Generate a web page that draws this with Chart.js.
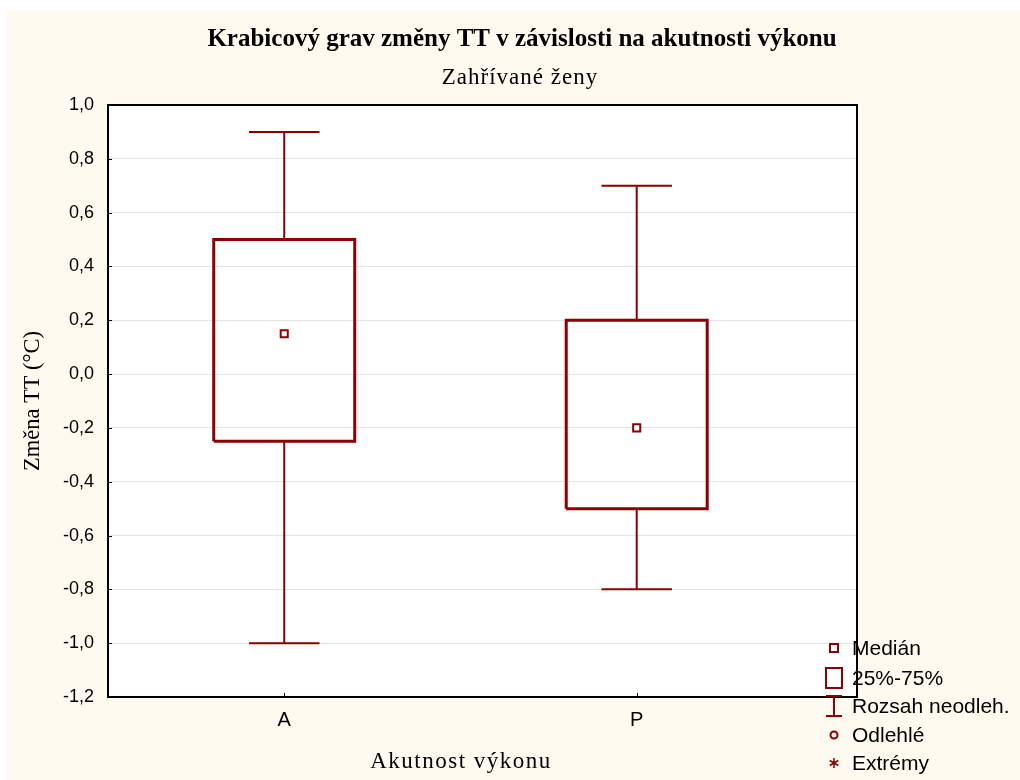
<!DOCTYPE html>
<html>
<head>
<meta charset="utf-8">
<script src="https://cdn.jsdelivr.net/npm/chart.js@4/dist/chart.umd.min.js"></script>
<style>
  body { margin: 0; background: #ffffff; }
  #wrap { position: absolute; left: 7px; top: 10px; width: 1013px; height: 770px; }
</style>
</head>
<body>
<div id="wrap"><canvas id="box-chart"></canvas></div>
<script>
// Data
const groups = ['A', 'P'];
const mins = [-1.0, -0.8];
const q1s = [-0.25, -0.5];
const medians = [0.15, -0.2];
const q3s = [0.5, 0.2];
const maxs = [0.9, 0.7];

const legendLabels = ['Medián', '25%-75%', 'Rozsah neodleh.', 'Odlehlé', 'Extrémy'];

const red = '#8b0000';
const cream = '#fffaf0';
const boxHalf = 0.2;
const capHalf = 0.1;

// build datasets from the arrays
let datasets = [];
groups.forEach((g, i) => {
  datasets.push({
    data: [
      {x: i - boxHalf, y: q1s[i]}, {x: i + boxHalf, y: q1s[i]},
      {x: i + boxHalf, y: q3s[i]}, {x: i - boxHalf, y: q3s[i]},
      {x: i - boxHalf, y: q1s[i]}
    ],
    showLine: true, borderColor: red, borderWidth: 3, pointRadius: 0,
    backgroundColor: 'transparent', spanGaps: false
  });
  datasets.push({
    data: [
      {x: i, y: q3s[i]}, {x: i, y: maxs[i]}, {x: NaN, y: NaN},
      {x: i - capHalf, y: maxs[i]}, {x: i + capHalf, y: maxs[i]}, {x: NaN, y: NaN},
      {x: i, y: q1s[i]}, {x: i, y: mins[i]}, {x: NaN, y: NaN},
      {x: i - capHalf, y: mins[i]}, {x: i + capHalf, y: mins[i]}
    ],
    showLine: true, borderColor: red, borderWidth: 2, pointRadius: 0,
    backgroundColor: 'transparent', spanGaps: false
  });
});
datasets.push({
  data: groups.map((g, i) => ({x: i, y: medians[i]})),
  showLine: false, pointStyle: 'rect', pointRadius: 5,
  borderColor: red, borderWidth: 2, backgroundColor: '#ffffff'
});

function fmt(v) {
  if (Math.abs(v) < 1e-9) v = 0;
  return v.toFixed(1).replace('.', ',');
}

// background, frame, titles and the legend
const decor = {
  id: 'decor',
  beforeDraw(chart) {
    const ctx = chart.ctx, a = chart.chartArea;
    ctx.save();
    ctx.fillStyle = cream;
    ctx.fillRect(0, 0, chart.width, chart.height);
    ctx.fillStyle = '#ffffff';
    ctx.fillRect(a.left, a.top, a.right - a.left, a.bottom - a.top);
    ctx.restore();
  },
  afterDraw(chart) {
    const ctx = chart.ctx, a = chart.chartArea;
    ctx.save();
    ctx.strokeStyle = '#000';
    ctx.lineWidth = 2;
    ctx.strokeRect(a.left, a.top, a.right - a.left, a.bottom - a.top);

    // inward ticks
    const xs = chart.scales.x, ys = chart.scales.y;
    ctx.lineWidth = 1;
    ctx.beginPath();
    groups.forEach((g, i) => {
      const px = Math.round(xs.getPixelForValue(i)) + 0.5;
      ctx.moveTo(px, a.bottom);
      ctx.lineTo(px, a.bottom - 4);
    });
    ys.ticks.forEach((t) => {
      const py = Math.round(ys.getPixelForValue(t.value)) + 0.5;
      ctx.moveTo(a.left, py);
      ctx.lineTo(a.left + 4, py);
    });
    ctx.stroke();

    ctx.fillStyle = '#000';
    ctx.textAlign = 'center';
    ctx.textBaseline = 'middle';
    ctx.font = 'bold 25px "Liberation Serif"';
    ctx.fillText('Krabicový grav změny TT v závislosti na akutnosti výkonu', 515, 30);
    ctx.font = '23px "Liberation Serif"';
    ctx.letterSpacing = '1px';
    ctx.fillText('Zahřívané ženy', 513, 68);
    ctx.letterSpacing = '1.5px';
    ctx.fillText('Akutnost výkonu', 454, 752);
    ctx.letterSpacing = '0px';

    ctx.save();
    ctx.translate(26, 391);
    ctx.rotate(-Math.PI / 2);
    ctx.font = '22.5px "Liberation Serif"';
    ctx.fillText('Změna TT (°C)', 0, 0);
    ctx.restore();

    // legend
    const lx = 827, rows = [638, 668, 696, 725, 753];
    ctx.strokeStyle = red;
    ctx.lineWidth = 2;
    // median
    ctx.strokeRect(lx - 4, rows[0] - 4, 8, 8);
    // box
    ctx.strokeRect(lx - 8, rows[1] - 10, 16, 20);
    // whisker
    ctx.beginPath();
    ctx.moveTo(lx - 8, rows[2] - 10); ctx.lineTo(lx + 8, rows[2] - 10);
    ctx.moveTo(lx, rows[2] - 10); ctx.lineTo(lx, rows[2] + 10);
    ctx.moveTo(lx - 8, rows[2] + 10); ctx.lineTo(lx + 8, rows[2] + 10);
    ctx.stroke();
    // outlier
    ctx.beginPath();
    ctx.arc(lx, rows[3], 3.5, 0, Math.PI * 2);
    ctx.stroke();
    // extreme
    ctx.lineWidth = 1.5;
    ctx.beginPath();
    for (let k = 0; k < 3; k++) {
      const ang = Math.PI / 2 + k * Math.PI / 3;
      ctx.moveTo(lx - 5 * Math.cos(ang), rows[4] - 5 * Math.sin(ang));
      ctx.lineTo(lx + 5 * Math.cos(ang), rows[4] + 5 * Math.sin(ang));
    }
    ctx.stroke();

    ctx.fillStyle = '#000';
    ctx.textAlign = 'left';
    ctx.font = '21px "Liberation Sans"';
    legendLabels.forEach((t, k) => ctx.fillText(t, 845, rows[k] + 1));
    ctx.restore();
  }
};

const ctx = document.getElementById('box-chart').getContext('2d');

const boxChart = new Chart(ctx, {
  type: 'scatter',
  data: { datasets: datasets },
  options: {
    responsive: true,
    maintainAspectRatio: false,
    animation: false,
    layout: { padding: { top: 95, right: 163, left: 0, bottom: 0 } },
    plugins: {
      legend: { display: false },
      tooltip: { enabled: false },
      title: { display: false }
    },
    scales: {
      x: {
        type: 'linear',
        min: -0.5,
        max: 1.625,
        afterBuildTicks: (scale) => { scale.ticks = groups.map((g, i) => ({value: i})); },
        afterFit: (scale) => { scale.height = 83; },
        ticks: {
          callback: (v) => groups[v] !== undefined ? groups[v] : '',
          color: '#000',
          font: { family: 'Liberation Sans', size: 20 },
          padding: 11,
          maxRotation: 0,
          autoSkip: false
        },
        grid: { drawOnChartArea: false, drawTicks: false },
        border: { color: '#000', width: 2 }
      },
      y: {
        min: -1.2,
        max: 1.0,
        afterFit: (scale) => { scale.width = 101; },
        ticks: {
          stepSize: 0.2,
          callback: (v) => fmt(v),
          color: '#000',
          font: { family: 'Liberation Sans', size: 18 },
          padding: 14
        },
        grid: { color: '#e4e4e4', lineWidth: 1, drawTicks: false },
        border: { color: '#000', width: 2 }
      }
    }
  },
  plugins: [decor]
});
</script>
</body>
</html>
